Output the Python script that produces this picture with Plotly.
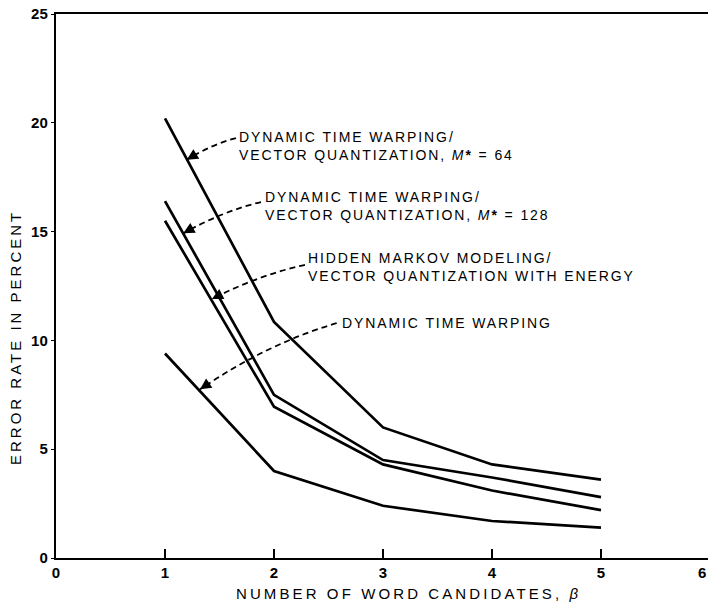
import plotly.graph_objects as go

# Number of word candidates (beta) and error rates (%) for each recognizer
candidates = [1, 2, 3, 4, 5]
dtw_vq_64 = [20.2, 10.85, 6.0, 4.3, 3.6]
dtw_vq_128 = [16.4, 7.5, 4.5, 3.7, 2.8]
hmm_vq_energy = [15.5, 6.95, 4.3, 3.1, 2.2]
dtw_plain = [9.4, 4.0, 2.4, 1.7, 1.4]

series = [dtw_vq_64, dtw_vq_128, hmm_vq_energy, dtw_plain]

x_ticks = [0, 1, 2, 3, 4, 5]
y_ticks = [0, 5, 10, 15, 20, 25]

W, H = 708, 607
M_L, M_R, M_T, M_B = 56, 0, 14, 49
PX_X = 109.0
PLOT_W = W - M_L - M_R
PLOT_H = H - M_T - M_B
X_MAX = PLOT_W / PX_X
Y_MAX = 25
PX_Y = PLOT_H / Y_MAX

FONT = "Liberation Sans, Arial, Helvetica, sans-serif"


def spaced(text, px):
    return f'<span style="letter-spacing:{px}px">{text}</span>'


# Callout labels: (text, label left x, label centre y, dash start, arrow tip)
callouts = [
    ("DYNAMIC TIME WARPING/<br>VECTOR QUANTIZATION, <i>M</i><b>*</b> = 64",
     1.66, 18.93, (1.651, 19.30), (1.20, 18.30)),
    ("DYNAMIC TIME WARPING/<br>VECTOR QUANTIZATION, <i>M</i><b>*</b> = 128",
     1.90, 16.18, (1.881, 16.36), (1.168, 14.92)),
    ("HIDDEN MARKOV MODELING/<br>VECTOR QUANTIZATION WITH ENERGY",
     2.29, 13.37, (2.284, 13.47), (1.43, 11.90)),
    ("DYNAMIC TIME WARPING",
     2.61, 10.80, (2.575, 10.79), (1.321, 7.75)),
]

fig = go.Figure()

for ys in series:
    fig.add_trace(go.Scatter(
        x=candidates, y=ys, mode="lines",
        line=dict(color="black", width=2.7),
        showlegend=False, hoverinfo="skip",
    ))

shapes = []
annotations = []
for text, lx, ly, (sx, sy), (tx, ty) in callouts:
    cx = 0.5 * (sx + tx)
    cy = sy + 0.3 * (ty - sy)
    shapes.append(dict(
        type="path", xref="x", yref="y",
        path=f"M {sx},{sy} Q {cx},{cy} {tx},{ty}",
        line=dict(color="black", width=1.8, dash="6px,4px"),
    ))
    dxp = (cx - tx) * PX_X
    dyp = -(cy - ty) * PX_Y
    n = (dxp ** 2 + dyp ** 2) ** 0.5
    annotations.append(dict(
        x=tx, y=ty, xref="x", yref="y", text="",
        showarrow=True, arrowhead=2, arrowsize=1.4, arrowwidth=1.6,
        arrowcolor="black", standoff=0,
        ax=dxp / n * 9, ay=dyp / n * 9,
    ))
    annotations.append(dict(
        x=lx, y=ly, xref="x", yref="y", text=spaced(text, 1.9),
        showarrow=False, xanchor="left", yanchor="middle", align="left",
        font=dict(family=FONT, size=14, color="black"),
    ))

# Axis titles
annotations.append(dict(
    x=(408 - M_L) / PLOT_W, y=-(593 - (H - M_B)) / PLOT_H,
    xref="paper", yref="paper", showarrow=False,
    text=spaced("NUMBER OF WORD CANDIDATES, <i>β</i>", 3.1),
    xanchor="center", yanchor="middle",
    font=dict(family=FONT, size=15, color="black"),
))
annotations.append(dict(
    x=-(M_L - 15) / PLOT_W, y=((H - M_B) - 338) / PLOT_H,
    xref="paper", yref="paper", showarrow=False, textangle=-90,
    text=spaced("ERROR RATE IN PERCENT", 3.0),
    xanchor="center", yanchor="middle",
    font=dict(family=FONT, size=15, color="black"),
))
# Last x tick label, tucked against the right edge of the page
annotations.append(dict(
    x=1.0, y=-14 / PLOT_H, xref="paper", yref="paper",
    showarrow=False, text="6", xanchor="right", yanchor="middle",
    font=dict(family=FONT, size=15, color="black", weight="bold"),
))

fig.update_layout(
    width=W, height=H,
    margin=dict(l=M_L, r=M_R, t=M_T, b=M_B, pad=0),
    paper_bgcolor="white", plot_bgcolor="white",
    showlegend=False,
    shapes=shapes, annotations=annotations,
    xaxis=dict(
        range=[0, X_MAX], tickvals=x_ticks, ticktext=[str(v) for v in x_ticks],
        showgrid=False, zeroline=False,
        showline=True, linecolor="black", linewidth=2.4, mirror=True,
        ticks="inside", ticklen=9, tickwidth=1.6, tickcolor="black",
        tickfont=dict(family=FONT, size=15, color="black", weight="bold"),
    ),
    yaxis=dict(
        range=[0, Y_MAX], tickvals=y_ticks, ticktext=[str(v) for v in y_ticks],
        showgrid=False, zeroline=False,
        showline=True, linecolor="black", linewidth=2.4,
        ticks="outside", ticklen=3, tickwidth=1, tickcolor="black",
        tickfont=dict(family=FONT, size=15, color="black", weight="bold"),
    ),
)

fig.write_html("out.html")
